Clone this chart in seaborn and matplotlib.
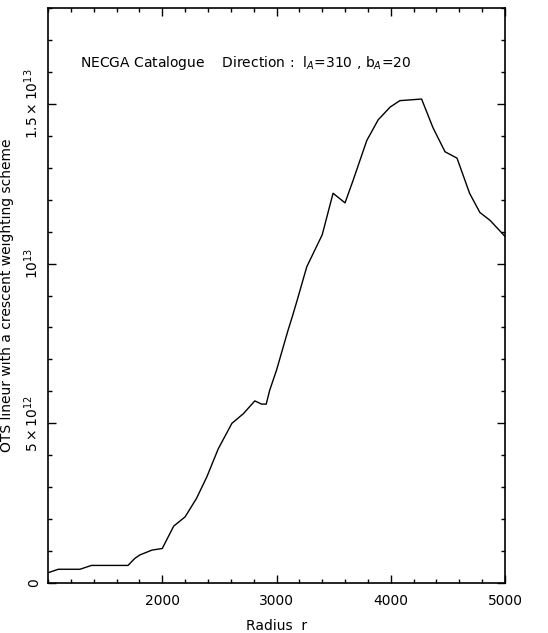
import numpy as np
import matplotlib
matplotlib.use("Agg")
import matplotlib.pyplot as plt
import seaborn as sns

# radius values (x) and OTS values (units of 1e12)
radius = [1000, 1090, 1280, 1380, 1700,
          1760, 1805, 1910, 2000, 2100, 2200, 2300, 2390, 2490, 2610, 2710,
          2810, 2870, 2910, 2940, 3000, 3100, 3135, 3180, 3265, 3400, 3495,
          3600, 3670, 3790, 3890, 3995, 4080, 4270, 4370, 4475, 4580, 4690,
          4780, 4870, 5000]
ots_e12 = [0.32, 0.43, 0.43, 0.55, 0.55,
           0.77, 0.88, 1.03, 1.08, 1.78, 2.07, 2.65, 3.32, 4.2, 5.0, 5.3,
           5.7, 5.6, 5.6, 6.03, 6.66, 7.9, 8.3, 8.84, 9.9, 10.9, 12.2,
           11.9, 12.6, 13.85, 14.5, 14.9, 15.1, 15.15, 14.25, 13.5, 13.3, 12.2,
           11.6, 11.35, 10.85]

x_ticks = [2000, 3000, 4000, 5000]
x_ticklabels = ["2000", "3000", "4000", "5000"]
y_ticks = [0, 5e12, 1e13, 1.5e13]
y_ticklabels = ["0", r"$5\times10^{12}$", r"$10^{13}$", r"$1.5\times10^{13}$"]

ots = np.array(ots_e12) * 1e12

sns.set_style("ticks", {"axes.edgecolor": "black", "xtick.color": "black",
                        "ytick.color": "black", "text.color": "black",
                        "axes.labelcolor": "black"})
plt.rcParams["font.family"] = ["DejaVu Sans"]

fig = plt.figure(figsize=(5.48, 6.33), dpi=100)
ax = fig.add_axes([48 / 548, 1 - 583 / 633, 457 / 548, 575 / 633])

sns.lineplot(x=radius, y=ots, ax=ax, color="black", lw=1.0, sort=False)

ax.set_xlim(1000, 5000)
ax.set_ylim(0, 1.8e13)
ax.set_xticks(x_ticks)
ax.set_xticklabels(x_ticklabels, fontsize=10)
ax.set_xticks(np.arange(1000, 5001, 200), minor=True)
ax.set_yticks(y_ticks)
ax.set_yticklabels(y_ticklabels, fontsize=10, rotation=90, va="center")
ax.set_yticks(np.arange(0, 1.8e13 + 1, 1e12), minor=True)

ax.tick_params(which="both", direction="in", top=True, right=True, width=1.0)
ax.tick_params(which="major", length=6)
ax.tick_params(axis="x", which="major", pad=8)
ax.tick_params(axis="y", which="major", pad=5)
ax.tick_params(which="minor", length=3)
for s in ax.spines.values():
    s.set_linewidth(1.2)

ax.set_xlabel("Radius  r", fontsize=10, labelpad=8)
ax.set_ylabel("OTS lineur with a crescent weighting scheme", fontsize=10, labelpad=6)

ax.text(0.07, 0.904, r"NECGA Catalogue    Direction :  l$_A$=310 , b$_A$=20",
        transform=ax.transAxes, fontsize=10, ha="left", va="center")

fig.savefig("out.png", dpi=100)
